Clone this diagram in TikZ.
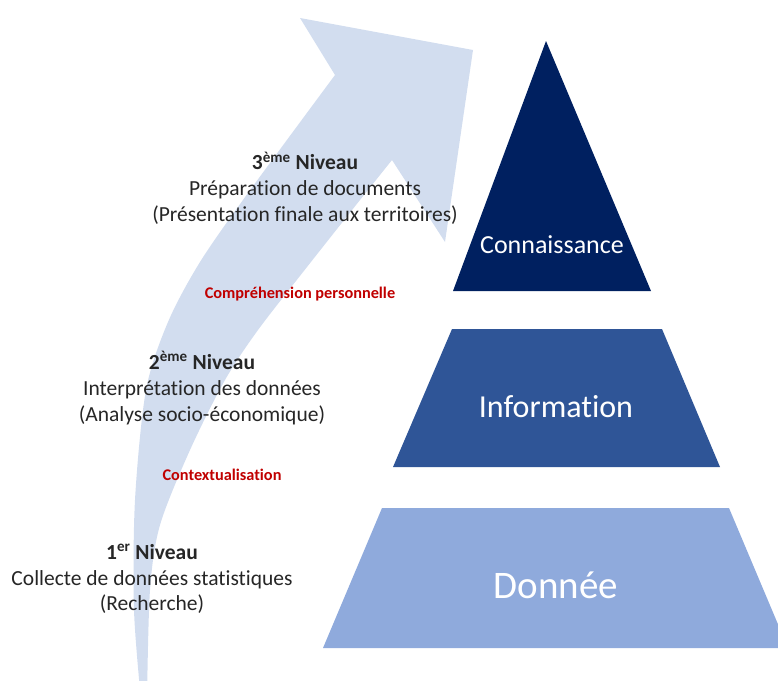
\documentclass[tikz,border=0pt]{standalone}
\usepackage{fontspec}
\setmainfont{Carlito}[Ligatures={NoCommon}]

\definecolor{arrowblue}{HTML}{D2DDEF}
\definecolor{navy}{HTML}{002060}
\definecolor{midblue}{HTML}{2F5597}
\definecolor{paleblue}{HTML}{8FAADC}
\definecolor{darkred}{HTML}{C00000}

\tikzset{
	niveau/.style={align=center,text=black!85,font=\fontsize{21.5}{25.8}\selectfont},
	passage/.style={text=darkred,font=\bfseries\fontsize{16.3}{19}\selectfont},
	tier/.style={text=white},
}

\begin{document}
\begin{tikzpicture}[x=1pt,y=-1pt]
	\useasboundingbox (0,0) rectangle (778,680);
	\clip (0,0) rectangle (778,680);
	% fleche courbe
	\fill[arrowblue] plot[smooth] coordinates {(141,700) (134,610) (135,500) (146,390) (168,322) (200,262) (248,193) (335,75)}
		-- (300,18) -- (473,50) -- (445,242) -- (392,160)
		-- plot[smooth] coordinates {(392,160) (360,200) (307,267) (258,330) (225,380) (190,450) (160,525) (150,590) (147,700)} -- cycle;
	% pyramide
	\fill[navy](546,41)--(651,291)--(453,291)--cycle;
	\fill[midblue](452,329)--(662,329)--(720,467)--(393,467)--cycle;
	\fill[paleblue](382,508)--(729,508)--(788,648)--(323,648)--cycle;
	\node[tier,font=\fontsize{26}{30}\selectfont] (conn) at (552,245) {Connaissance};
	\node[tier,font=\fontsize{32}{36}\selectfont] (info) at (556,407) {Information};
	\node[tier,font=\fontsize{39}{44}\selectfont] (donnee) at (556,585) {Donnée};
	% niveaux
	\node[niveau] (n3) at (305,188) {\textbf{3\textsuperscript{ème} Niveau}\\Préparation de documents\\(Présentation finale aux territoires)};
	\node[niveau] (n2) at (202,388) {\textbf{2\textsuperscript{ème} Niveau}\\Interprétation des données\\(Analyse socio-économique)};
	\node[niveau] (n1) at (152,579) {\textbf{1\textsuperscript{er} Niveau}\\Collecte de données statistiques\\(Recherche)};
	\node[passage] (comp) at (300,294) {Compréhension personnelle};
	\node[passage] (ctx) at (222,475) {Contextualisation};
\end{tikzpicture}
\end{document}
